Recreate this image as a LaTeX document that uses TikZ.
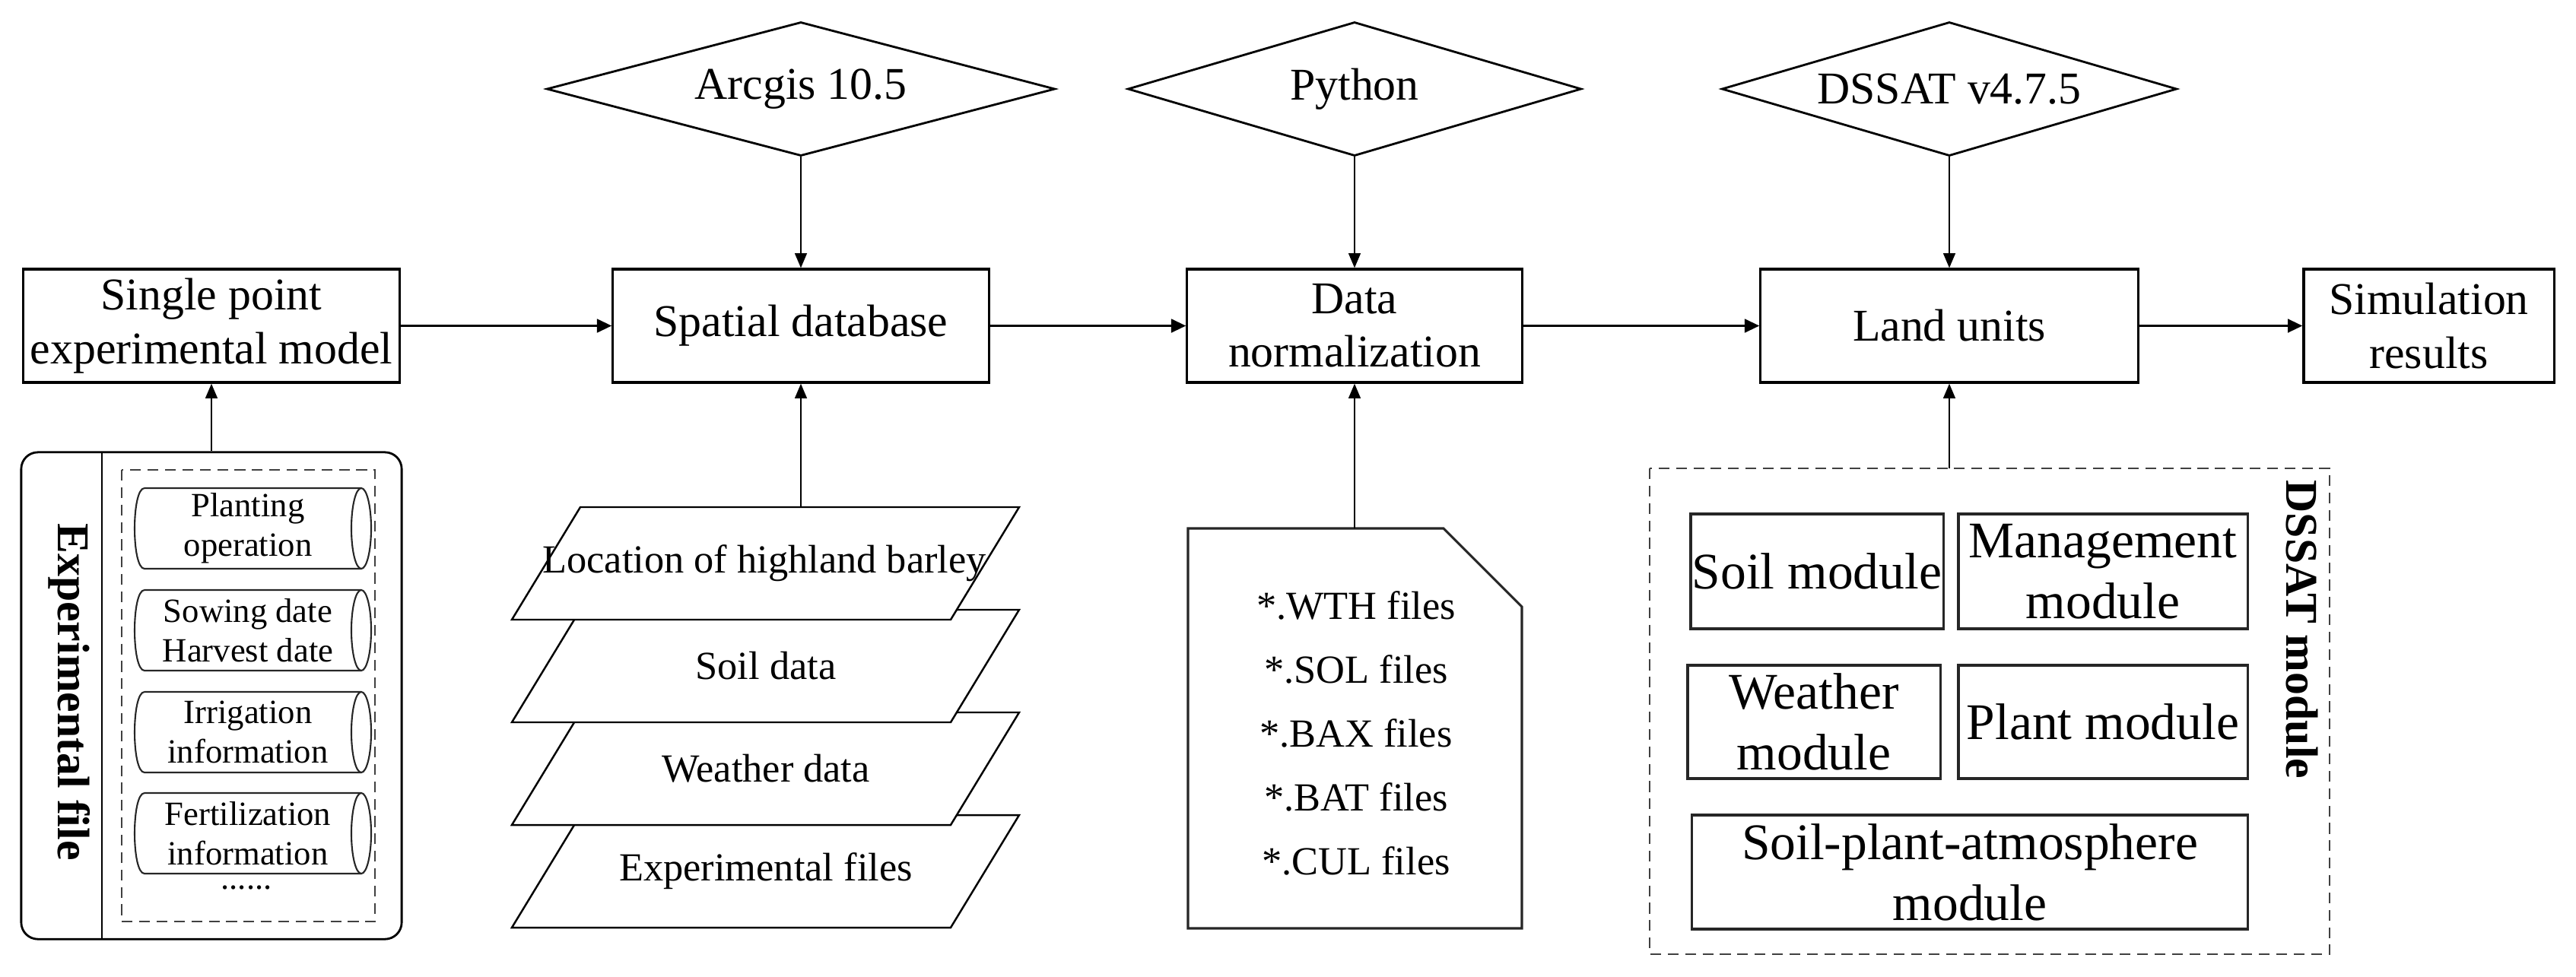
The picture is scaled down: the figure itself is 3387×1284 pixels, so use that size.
\documentclass[tikz,border=0pt]{standalone}
\usepackage{fontspec}
\setmainfont{Liberation Serif}
\usetikzlibrary{shapes.geometric, arrows.meta}

\begin{document}
\begin{tikzpicture}[x=0.01cm, y=-0.01cm,
  box/.style={draw=black, line width=0.9pt, fill=white, inner sep=0pt, align=center,
              minimum height=1.49cm, font=\fontsize{17}{20}\selectfont},
  tool/.style={diamond, draw=black, line width=0.8pt, inner sep=0pt,
               minimum height=1.76cm, font=\fontsize{17}{20}\selectfont},
  arr/.style={-{Triangle[length=5.5pt,width=5pt]}, line width=0.9pt},
  varr/.style={-{Triangle[length=5.5pt,width=4.5pt]}, line width=0.6pt},
  dashbox/.style={draw=black!75, line width=0.7pt, dash pattern=on 4pt off 2.5pt},
  cylline/.style={draw=black!85, line width=0.6pt},
  cyltext/.style={align=center, inner sep=0pt, font=\fontsize{12.7}{14.8}\selectfont},
  dotstext/.style={inner sep=0pt, text height=2pt, text depth=0pt, font=\fontsize{12.7}{14.8}\selectfont},
  para/.style={draw=black, line width=0.7pt, fill=white},
  paratext/.style={inner sep=0pt, font=\fontsize{14.9}{17}\selectfont},
  modbox/.style={draw=black!85, line width=0.9pt, inner sep=0pt, align=center,
                 font=\fontsize{19.2}{22.8}\selectfont},
  sidelabel/.style={rotate=-90, inner sep=0pt, font=\bfseries\fontsize{17}{20}\selectfont}
]
\useasboundingbox (0,0) rectangle (3387,1284);

% main row
\node[box, minimum width=4.94cm] (single)  at (278,428.5)  {Single point\\experimental model};
\node[box, minimum width=4.94cm] (spatial) at (1053,428.5) {Spatial database};
\node[box, minimum width=4.40cm] (norm)    at (1781,428.5) {Data\\normalization};
\node[box, minimum width=4.96cm] (land)    at (2563,428.5) {Land units};
\node[box, minimum width=3.29cm] (sim)     at (3193.5,428.5) {Simulation\\results};

\draw[arr] (single.east) -- (spatial.west);
\draw[arr] (spatial.east) -- (norm.west);
\draw[arr] (norm.east) -- (land.west);
\draw[arr] (land.east) -- (sim.west);

% tools
\node[tool, minimum width=6.68cm, shape aspect=3.8] (arcgis) at (1053,117) {Arcgis 10.5};
\node[tool, minimum width=5.96cm, shape aspect=3.4] (python) at (1781,117) {Python};
\node[tool, minimum width=5.98cm, shape aspect=3.4] (dssat)  at (2563,117) {DSSAT v4.7.5};

\draw[varr] (arcgis.south) -- (spatial.north);
\draw[varr] (python.south) -- (norm.north);
\draw[varr] (dssat.south) -- (land.north);

% experimental file
\node[draw=black, line width=0.8pt, rounded corners=0.22cm, minimum width=5.0cm,
      minimum height=6.40cm, inner sep=0pt] (expbox) at (278,915) {};
\draw[line width=0.8pt] (134,595) -- (134,1235);
\node[sidelabel] (explabel) at (91,910) {Experimental file};
\draw[dashbox] (160,618) rectangle (493,1212);
\foreach \t/\n/\txt in {642/cyla/{Planting\\operation}, 776/cylb/{Sowing date\\Harvest date},
                        910/cylc/{Irrigation\\information}, 1043/cyld/{Fertilization\\information}} {
  \pgfmathsetmacro\b{\t+106}
  \pgfmathsetmacro\m{\t+53}
  \draw[cylline] (190,\t) -- (475,\t) (475,\b) -- (190,\b)
        .. controls (172.7,\b) and (172.7,\t) .. (190,\t);
  \draw[cylline] (475,\m) ellipse [x radius=0.13cm, y radius=0.53cm];
  \node[cyltext] (\n) at (326,\m) {\txt};
}
\node[dotstext] (dots) at (324,1166) {......};
\draw[varr] (expbox.north) -- (single.south);

% spatial layers
\foreach \t in {1072,937,802,667} {
  \draw[para] (673,\t+148) -- (763,\t) -- (1340,\t) -- (1250,\t+148) -- cycle;
}
\node[paratext] (loc)     at (1005,741)  {Location of highland barley};
\node[paratext] (soild)   at (1007,876)  {Soil data};
\node[paratext] (weathd)  at (1007,1011) {Weather data};
\node[paratext] (expf)    at (1007,1146) {Experimental files};
\coordinate (paratop) at (1053,667);
\draw[varr] (paratop) -- (spatial.south);

% document
\draw[line width=0.9pt, draw=black!85] (1562,695) -- (1898,695) -- (2001,798) -- (2001,1221) -- (1562,1221) -- cycle;
\node[paratext] (wth) at (1783,796)  {*.WTH files};
\node[paratext] (sol) at (1783,880)  {*.SOL files};
\node[paratext] (bax) at (1783,964)  {*.BAX files};
\node[paratext] (bat) at (1783,1048) {*.BAT files};
\node[paratext] (cul) at (1783,1132) {*.CUL files};
\coordinate (doctop) at (1781,695);
\draw[varr] (doctop) -- (norm.south);

% DSSAT module
\draw[dashbox] (2169,616) rectangle (3063,1255);
\coordinate (dsstop) at (2563,616);
\draw[varr] (dsstop) -- (land.south);
\node[modbox, minimum width=3.32cm, minimum height=1.51cm] (soilm)  at (2389,751.5) {Soil module};
\node[modbox, minimum width=3.80cm, minimum height=1.51cm] (mgmt)   at (2765,751.5) {Management\\module};
\node[modbox, minimum width=3.32cm, minimum height=1.49cm] (weathm) at (2385,949.5) {Weather\\module};
\node[modbox, minimum width=3.80cm, minimum height=1.49cm] (plantm) at (2765,949.5) {Plant module};
\node[modbox, minimum width=7.30cm, minimum height=1.50cm] (spam)   at (2590,1147) {Soil-plant-atmosphere\\module};
\node[sidelabel] (dsslabel) at (3027,828) {DSSAT module};
\end{tikzpicture}
\end{document}
